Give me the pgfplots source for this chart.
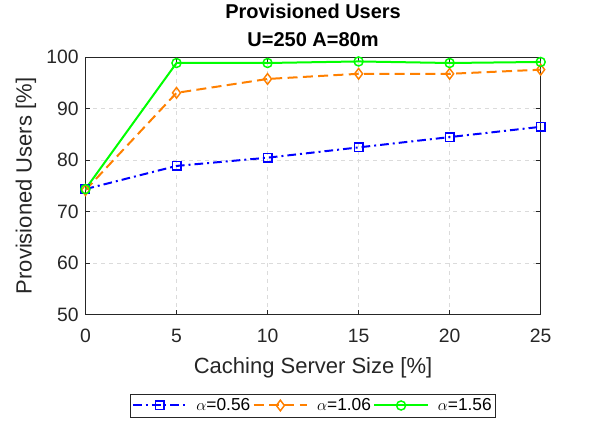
\documentclass[border=0pt]{standalone}
\usepackage{pgfplots}
\pgfplotsset{compat=1.18}
\usepackage{fontspec}
\setmainfont{Liberation Sans}
\definecolor{mgray}{gray}{0.15}
\definecolor{mgrid}{gray}{0.86}
\definecolor{morange}{rgb}{1,0.5,0}
\definecolor{mgreen}{rgb}{0,1,0}
\begin{document}
\begin{tikzpicture}
\path[use as bounding box] (-64.1pt,-82pt) rectangle (378.4pt,236pt);
\begin{axis}[
    at={(0,0)}, anchor=south west,
    scale only axis,
    width=341.4pt,
    height=193pt,
    xmin=0, xmax=25,
    ymin=50, ymax=100,
    xtick={0,5,10,15,20,25},
    ytick={50,60,70,80,90,100},
    /pgf/number format/assume math mode=true,
    tick label style={font=\fontsize{14.5}{17}\selectfont, text=mgray},
    xticklabel style={yshift=-7.4pt},
    yticklabel style={xshift=-1.6pt},
    label style={font=\fontsize{16.5}{19}\selectfont, text=mgray},
    xlabel={Caching Server Size [\%]},
    xlabel style={at={(axis description cs:0.5,0)}, anchor=base, yshift=-44.5pt},
    ylabel={Provisioned Users [\%]},
    ylabel style={at={(axis description cs:-0.1306,0.5)}, anchor=center},
    title style={font=\bfseries\fontsize{15}{21.3}\selectfont, align=center,
        at={(axis description cs:0.5,1)}, anchor=south, inner sep=0pt, yshift=1.6pt},
    title={Provisioned Users\\U=250 A=80m},
    axis line style={mgray, line width=0.5pt},
    tick style={mgray, line width=0.5pt},
    tick align=inside,
    major tick length=3.5pt,
    xtick pos=both, ytick pos=both,
    grid=major,
    grid style={mgrid, dash pattern=on 3pt off 3pt, line width=0.5pt},
    legend columns=3,
    legend style={at={(axis description cs:0.5,-0.353)}, anchor=center,
        font=\fontsize{13}{15}\selectfont, draw=mgray, line width=0.5pt,
        inner xsep=1pt, inner ysep=1.5pt, nodes={inner sep=1.8pt},
        /tikz/every even column/.append style={column sep=0pt},
        /tikz/every odd column/.append style={column sep=5pt}},
    legend cell align=left,
    legend image code/.code={
        \draw[mark repeat=2, mark phase=2] plot coordinates {(0pt,0pt) (20pt,0pt) (40pt,0pt)};
    },
    every axis plot/.append style={line width=1.5pt, mark size=3.2pt,
        mark options={solid, line width=1.1pt}},
]
\addplot[blue, dash pattern=on 6.5pt off 3pt on 1.5pt off 3pt, mark=square] coordinates {
(0,74.4) (5,78.9) (10,80.5) (15,82.5) (20,84.5) (25,86.5)};
\addlegendentry{$\alpha$=0.56}
\addplot[morange, dash pattern=on 7.5pt off 4pt, mark=diamond, mark size=4pt] coordinates {
(0,74.2) (5,93.1) (10,95.8) (15,96.8) (20,96.8) (25,97.6)};
\addlegendentry{$\alpha$=1.06}
\addplot[mgreen, solid, mark=o, mark size=3.4pt] coordinates {
(0,74.4) (5,98.9) (10,98.9) (15,99.2) (20,98.9) (25,99.1)};
\addlegendentry{$\alpha$=1.56}
\end{axis}
\end{tikzpicture}
\end{document}
